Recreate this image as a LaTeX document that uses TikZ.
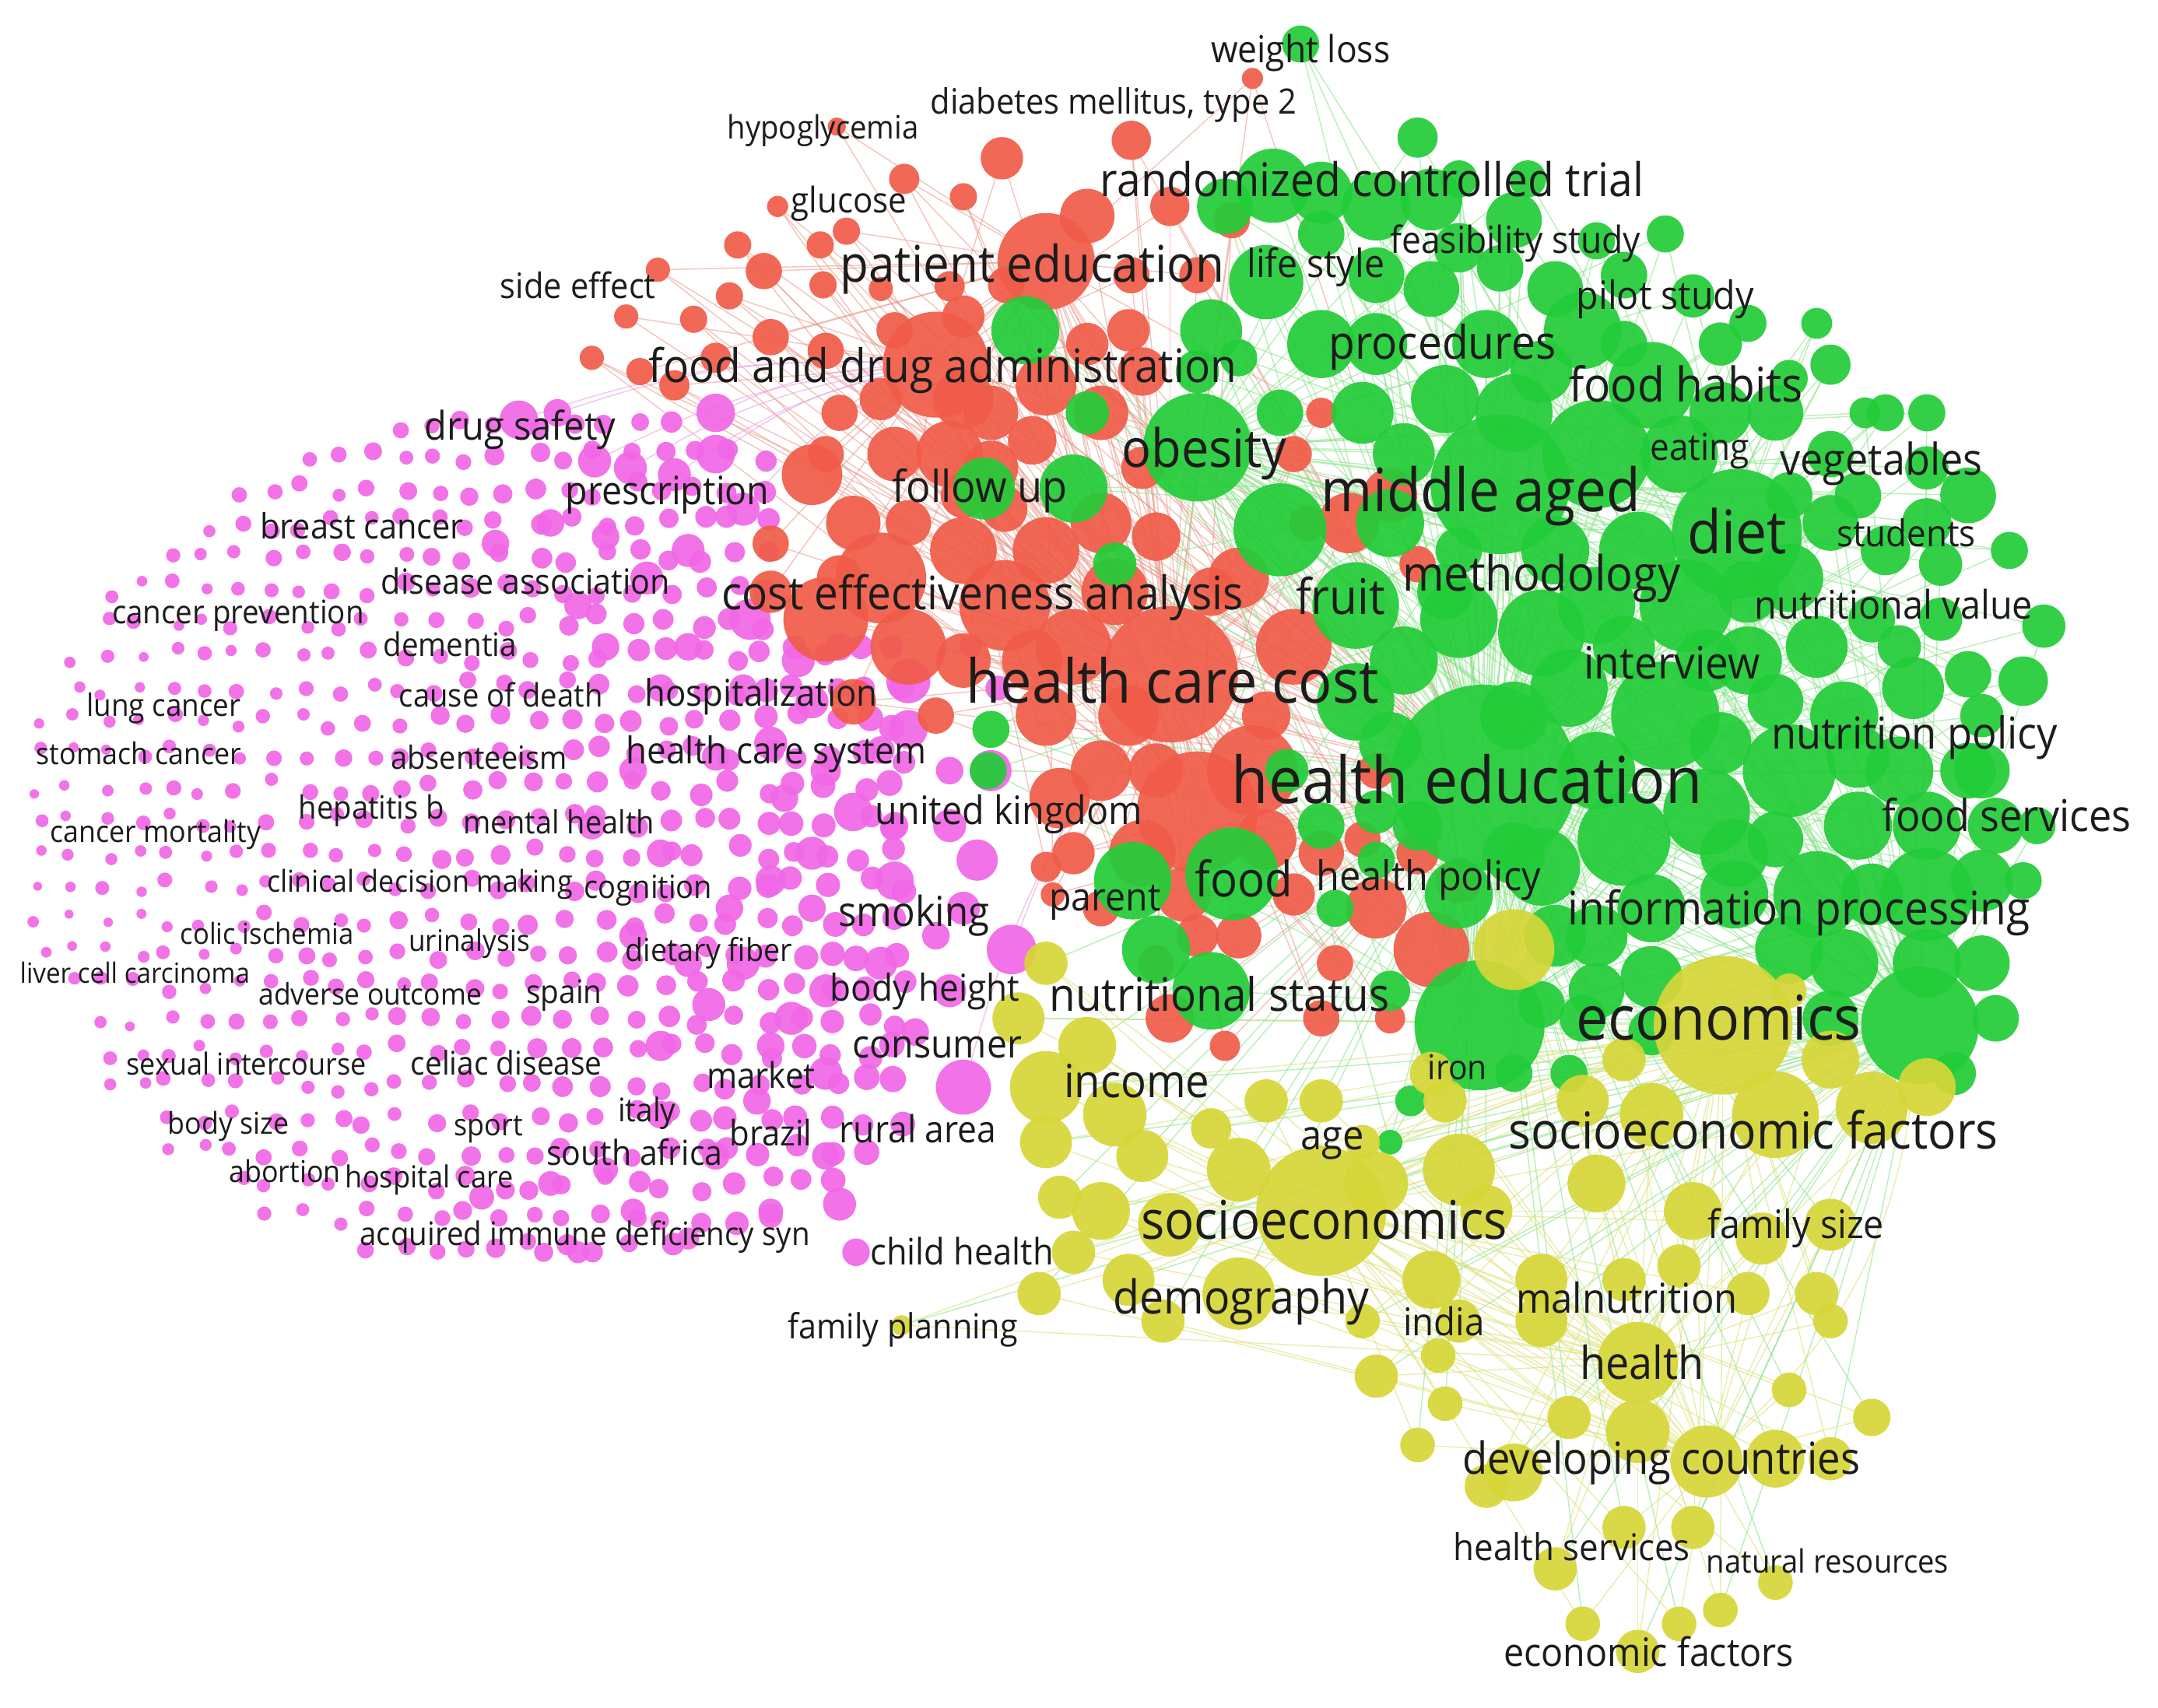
\documentclass[tikz,border=0pt]{standalone}
\usepackage{fontspec}
\setmainfont{Open Sans}
\usepackage{graphicx}
\usetikzlibrary{backgrounds}
\definecolor{pinkc}{RGB}{240,104,230}
\definecolor{redc}{RGB}{240,92,72}
\definecolor{greenc}{RGB}{34,204,56}
\definecolor{yellowc}{RGB}{214,214,56}
\definecolor{gedge}{RGB}{140,228,140}
\definecolor{redge}{RGB}{232,150,135}
\definecolor{yedge}{RGB}{222,228,130}
\definecolor{pedge}{RGB}{232,160,225}
\definecolor{labc}{RGB}{28,28,28}
\def\pinklist{
377/305/14,520/300/14,520/330/14,490/345/12,458/340/12,432/335/12,405/300/10,540/370/12,
700/790/20,735/690/18,720/560/15,710/625/15,660/495/16,660/530/14,620/590/14,590/620/12,
575/740/12,600/780/12,600/840/10,610/875/12,622/910/10,545/450/15,500/400/12,470/420/12,
560/540/12,590/510/12,625/505/10,600/560/11,570/580/10,560/640/11,540/700/12,515/730/12,
600/720/12,560/760/10,480/760/11,460/680/10,690/720/12,665/750/10,680/680/10,640/700/12,
650/640/14,700/660/12,690/600/12,650/600/10,590/660/10,690/560/10,640/545/10,610/470/10,
580/480/12,540/500/10,500/470/10,480/500/10,440/470/10,420/440/10,440/390/10,400/380/10,
360/395/10,520/550/10,460/560/10,430/600/10,480/620/10,530/660/10,500/700/10,480/810/10,
520/840/10,550/800/10,440/850/9,400/860/9,350/870/9,460/880/9,500/900/8,420/910/8,
560/880/9,395/910/7,725/500/9,705/470/8}
\def\redlist{
850/490/45,680/265/35,760/190/32,870/590/40,
640/420/30,730/440/30,600/450/28,660/470/25,780/470/25,810/430/22,910/560/30,940/470/25,
900/420/20,980/380/20,1010/360/18,590/345/20,650/330/18,690/330/22,700/400/22,760/400/22,
800/380/20,840/390/16,620/380/18,560/395/12,620/510/15,680/520/12,760/520/20,800/560/20,
830/620/22,860/650/18,900/680/15,870/680/14,850/740/16,960/740/12,970/700/12,1000/660/20,
1040/690/25,1060/640/15,1030/620/14,1000/560/12,960/620/15,920/610/20,700/290/20,720/300/18,
640/290/14,610/300/12,760/280/20,800/300/18,830/270/16,820/240/14,790/250/14,700/230/14,
650/240/12,600/255/12,560/245/12,520/260/10,490/280/10,465/270/9,430/260/8,455/230/8,
478/196/8,504/232/9,530/215/9,555/197/12,536/178/9,596/178/9,615/168/9,598/207/9,
640/210/8,690/208/10,731/207/12,822/200/12,870/200/12,895/160/12,850/150/13,790/157/18,
822/102/13,728/115/14,657/130/10,700/143/9,910/57/7,608/92/6,565/150/7,760/630/10,
765/650/8,950/380/12,1030/410/12,960/300/10,940/330/12,840/700/12,890/760/10,1010/740/10,
720/340/18,750/320/16,830/340/14,750/480/20,700/480/18,820/520/20,770/580/20,840/560/18,
700/360/15,560/430/14,610/420/15,880/430/16,730/370/15,920/520/16,780/620/14,940/650/14,
990/610/12,800/660/12,660/380/15,600/330/12}
\def\greenlist{
1078/565/60,1090/352/45,1262/388/42,1395/745/38,1075/745/42,870/325/35,
930/385/30,985/440/28,1010/380/22,1160/330/35,1200/280/28,1150/240/25,1100/300/25,1050/290/22,
990/300/20,960/250/22,1000/250/20,1080/250/22,1040/210/18,1130/210/18,1180/200/15,1230/215/14,
1270/235/12,1210/170/12,1160/175/12,1100/160/18,1040/145/20,1000/150/22,960/140/20,925/135/24,
890/150/18,1030/100/13,1060/130/12,1110/130/12,920/205/24,880/240/20,745/240/22,870/270/14,
900/260/12,930/300/15,1330/265/13,1290/300/18,1250/300/20,1220/330/25,1330/330/15,1370/300/12,
1400/340/14,1430/360/18,1460/400/12,1410/410/14,1370/400/16,1330/380/18,1300/420/22,1225/440/30,
1160/440/25,1120/460/28,1060/450/25,1020/480/22,985/510/25,1010/540/20,1140/500/25,1210/520/35,
1270/480/22,1320/470/20,1360/450/15,1410/450/14,1485/455/14,1470/495/16,1430/490/15,1390/500/20,
1340/520/22,1300/560/30,1380/560/22,1430/560/18,1450/600/18,1400/600/22,1350/600/22,1240/590/28,
1180/610/30,1120/630/25,1060/650/22,1130/680/20,1200/660/22,1260/650/22,1320/650/28,1400/650/30,
1440/700/18,1400/700/22,1340/700/22,1300/690/22,1200/710/20,1160/720/18,1120/730/15,1000/625/12,
960/600/15,1000/590/14,935/560/14,715/355/20,780/355/22,720/530/12,718/560/12,823/640/25,
895/635/30,840/690/22,880/720/25,970/660/12,1010/720/13,1025/800/10,1010/830/8,1100/780/12,
1140/780/12,790/300/14,810/410/14,1060/400/15,945/32/12,1250/540/20,1290/610/18,1470/640/12,
1330/740/18,1440/520/14,1320/235/10,1355/300/10,
1160/560/25,1050/430/18,1270/430/20,1190/400/25,1130/400/22,1350/360/15,1400/380/16,1300/360/15,
1440/640/20,1350/550/20,1260/620/22,1100/620/20,1160/680/20,1000/200/18,1060/180/16,1090/195/15,
960/170/15,1120/270/20,1020/330/20,1450/740/15,1360/650/20,1440/560/18,1240/480/20,1180/470/20,
1100/520/22,1290/510/18,1030/600/16,1250/250/14,1300/275/12,1400/300/12,1180/250/15,1380/470/14,
1480/600/12,1420/780/14,1150/740/15,1200/750/15}
\def\yellowlist{
1252/745/48,960/880/45,1190/990/28,1240/1062/25,
1100/690/28,1290/810/30,1360/805/25,1400/790/20,1330/770/20,1200/810/22,1150/800/18,1160/860/20,
1060/850/25,1000/860/22,900/850/22,850/890/22,900/940/25,1040/930/20,1080/880/18,1120/930/18,
1230/880/20,1280/900/18,1330/890/18,1320/940/15,1270/940/15,1220/920/15,1180/930/15,1120/960/18,
1060/960/15,1000/1000/15,1050/1020/12,1100/1070/20,1140/1030/15,1190/1040/22,1290/1060/20,1330/1060/15,
1360/1030/13,1330/960/12,1300/1010/12,1230/1110/15,1290/1150/12,1250/1170/12,1220/1180/12,1190/1200/15,
1150/1180/12,1130/1140/15,1180/1110/15,1080/1080/15,1030/1050/12,1040/780/15,960/800/15,990/830/12,
920/800/15,880/820/14,810/810/22,760/790/25,790/760/20,760/830/18,770/870/15,780/910/15,
755/940/15,800/880/20,830/840/18,740/740/18,760/700/15,820/930/18,845/960/15,990/960/12,
1045/985/12,1300/720/12,1180/770/15,655/963/7,1050/800/15}
\begin{document}
\begin{tikzpicture}[x=1pt,y=-1pt,
  bub/.style={circle,inner sep=0pt,outer sep=0pt,draw=none,fill opacity=0.92},
  pb/.style={bub,fill=pinkc},
  rb/.style={bub,fill=redc},
  gb/.style={bub,fill=greenc},
  yb/.style={bub,fill=yellowc},
  ge/.style={draw=gedge,line width=0.8pt,draw opacity=0.6},
  re/.style={draw=redge,line width=0.8pt,draw opacity=0.55},
  ye/.style={draw=yedge,line width=0.8pt,draw opacity=0.65},
  pe/.style={draw=pedge,line width=0.8pt,draw opacity=0.6},
  lab/.style={inner sep=0pt,outer sep=0pt,text=labc,font=\fontsize{30}{30}\selectfont}]
\useasboundingbox (0,0) rectangle (1568,1241);

% ---------- pink field of small dots ----------
\pgfmathsetseed{7}
\foreach \a in {0,...,26}{
  \foreach \b in {0,...,27}{
    \pgfmathsetmacro\px{28+24*\a+6*rand}
    \pgfmathsetmacro\py{284+24*\b+6*rand}
    \pgfmathtruncatemacro\ins{(((\px-380)/365)^2+((\py-610)/318)^2<1)*((\py>470)||(\px<560)) ? 1 : 0}
    \ifnum\ins=1
      \pgfmathsetmacro\pr{3.9+4.6*(\px-30)/600+0.9*rand}
      \node[pb,minimum size={2*\pr}] (p-\a-\b) at (\px,\py) {};
    \fi
  }
}

% ---------- bubbles ----------
\foreach \x/\y/\rr [count=\i] in \pinklist
  \node[pb,minimum size={2*\rr}] (k\i) at (\x,\y) {};
\foreach \x/\y/\rr [count=\i] in \redlist
  \node[rb,minimum size={2.2*\rr}] (r\i) at (\x,\y) {};
\foreach \x/\y/\rr [count=\i] in \greenlist
  \node[gb,minimum size={2.25*\rr}] (g\i) at (\x,\y) {};
\foreach \x/\y/\rr [count=\i] in \yellowlist
  \node[yb,minimum size={2.1*\rr}] (y\i) at (\x,\y) {};

% ---------- links (one background scope, over a white ground) ----------
\begin{scope}[on background layer]
  \fill[white] (0,0) rectangle (1568,1241);
  \foreach \x/\y/\rr [count=\i] in \redlist {
    \ifnum\i>4
      \draw[re] (r\i) -- (r1);
      \pgfmathtruncatemacro\hb{2+mod(\i,3)}
      \draw[re] (r\i) -- (r\hb);
      \ifodd\i \draw[re] (r\i) -- (g1); \fi
    \fi
  }
  \foreach \x/\y/\rr [count=\i] in \greenlist {
    \ifnum\i>6
      \draw[ge] (g\i) -- (g1);
      \pgfmathtruncatemacro\hb{2+mod(\i,5)}
      \draw[ge] (g\i) -- (g\hb);
      \pgfmathtruncatemacro\hc{2+mod(\i+2,5)}
      \draw[ge] (g\i) -- (g\hc);
    \fi
  }
  \foreach \x/\y/\rr [count=\i] in \yellowlist {
    \ifnum\i>4
      \pgfmathtruncatemacro\hb{1+mod(\i,4)}
      \draw[ye] (y\i) -- (y\hb);
      \pgfmathtruncatemacro\hc{1+mod(\i+2,4)}
      \draw[ye] (y\i) -- (y\hc);
      \ifodd\i \draw[ge] (y\i) -- (g1); \else \draw[ge] (y\i) -- (g4); \fi
    \fi
  }
  \foreach \i in {1,...,8} \draw[pe] (k\i) to[bend left=10] (r2);
  \draw[pe] (k9) to[bend left=10] (r1);
  \draw[pe] (k10) to[bend left=8] (r1);
  \draw[ye] (y3) to[bend left=15] (g4);
  \draw[ye] (y4) to[bend right=20] (g4);
  \draw[ye] (y2) to[bend left=10] (g4);
\end{scope}

% ---------- labels ----------
\foreach \x/\y/\lw/\lt [count=\i] in {
945/35/130/weight loss,809/73/266/{diabetes mellitus, type 2},598/92/139/hypoglycemia,
617/145/84/glucose,997/130/395/randomized controlled trial,750/191/279/patient education,
956/191/100/life style,1101/174/182/feasibility study,420/207/113/side effect,
1210/214/129/pilot study,1048/248/165/procedures,685/265/427/food and drug administration,
1225/279/170/food habits,378/309/139/drug safety,1235/324/72/eating,1367/333/147/vegetables,
875/325/120/obesity,485/356/148/prescription,712/353/127/follow up,1076/355/232/middle aged,
1262/386/72/diet,1385/387/101/students,263/382/148/breast cancer,382/422/210/disease association,
1120/416/202/methodology,173/444/183/cancer prevention,714/430/379/cost effectiveness analysis,
974/433/65/fruit,1376/439/202/nutritional value,327/468/97/dementia,1215/481/128/interview,
119/512/112/lung cancer,364/505/148/cause of death,553/503/169/hospitalization,
852/494/300/health care cost,101/547/149/stomach cancer,348/550/128/absenteeism,
564/545/218/health care system,1391/532/208/nutrition policy,1066/566/342/health education,
270/586/106/hepatitis b,733/588/194/united kingdom,1458/592/181/food services,
113/604/153/cancer mortality,406/597/139/mental health,305/640/222/clinical decision making,
471/644/93/cognition,803/651/81/parent,904/638/71/food,1038/636/163/health policy,
1307/659/336/information processing,664/662/110/smoking,194/678/126/colic ischemia,
341/683/88/urinalysis,515/690/121/dietary fiber,98/707/167/liver cell carcinoma,
269/722/162/adverse outcome,410/720/55/spain,672/717/138/body height,886/722/247/nutritional status,
1249/739/207/economics,681/758/123/consumer,179/773/174/sexual intercourse,368/772/139/celiac disease,
553/781/79/market,826/785/106/income,1059/775/43/iron,166/816/88/body size,355/817/50/sport,
470/806/42/italy,560/823/60/brazil,667/820/114/rural area,968/824/46/age,
1274/821/356/socioeconomic factors,461/837/128/south africa,207/851/81/abortion,
312/855/122/hospital care,962/886/266/socioeconomics,1305/889/128/family size,
425/896/327/acquired immune deficiency syn,699/909/133/child health,902/942/186/demography,
1182/943/161/malnutrition,1049/960/59/india,656/963/167/family planning,1193/990/90/health,
1207/1059/289/developing countries,1142/1124/172/health services,1328/1134/176/natural resources,
1198/1200/211/economic factors}
  \node[lab] (l\i) at (\x,\y) {\scalebox{1}[1.08]{\resizebox{\lw pt}{!}{\vphantom{h}\smash{\lt}}}};
\end{tikzpicture}
\end{document}
